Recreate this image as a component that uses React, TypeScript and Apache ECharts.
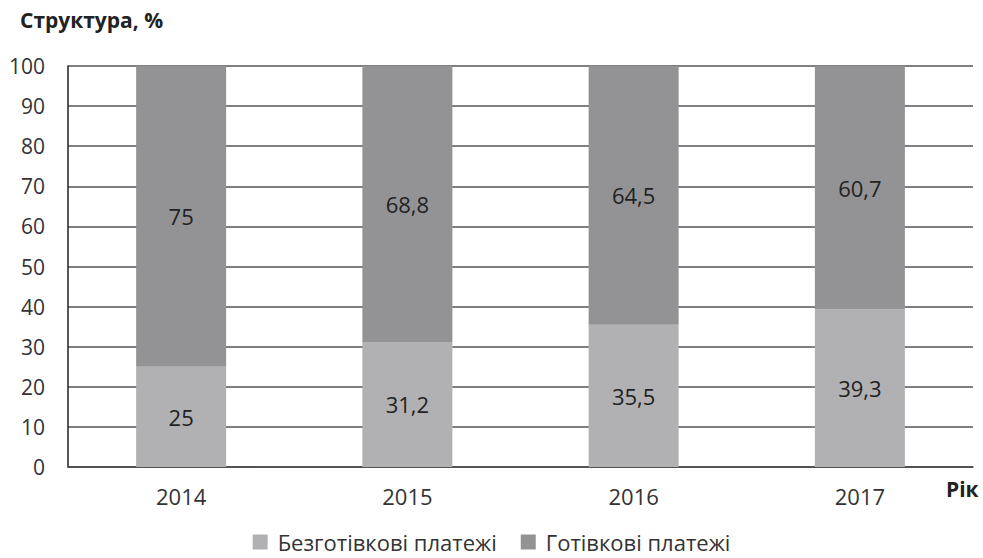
import React, { useEffect, useRef } from "react";
import * as echarts from "echarts";

const years = ["2014", "2015", "2016", "2017"];
const cashless = [25, 31.2, 35.5, 39.3];
const cash = [75, 68.8, 64.5, 60.7];
const seriesNames = ["Безготівкові платежі", "Готівкові платежі"];

const FONT = "'Open Sans', 'Noto Sans', sans-serif";

export default function App() {
  const ref = useRef<HTMLDivElement>(null);
  useEffect(() => {
    if (!ref.current) return;
    const chart = echarts.init(ref.current, undefined, { renderer: "svg" });
    const fmt = (p: any) => String(p.value).replace(".", ",");
    chart.setOption({
      animation: false,
      textStyle: { fontFamily: FONT },
      grid: { left: 68, right: 10, top: 66, bottom: 91 },
      graphic: [
        {
          type: "text",
          left: 20,
          top: 9,
          style: { text: "Структура, %", font: `bold 21px ${FONT}`, fill: "#222" },
        },
        {
          type: "text",
          left: 946,
          top: 478,
          style: { text: "Рік", font: `bold 21px ${FONT}`, fill: "#222" },
        },
      ],
      legend: {
        bottom: 0,
        left: "center",
        itemWidth: 15,
        itemHeight: 15,
        itemGap: 24,
        icon: "rect",
        textStyle: { fontSize: 22, color: "#333", fontFamily: FONT, padding: [0, 0, 0, 5] },
        data: seriesNames,
      },
      xAxis: {
        type: "category",
        data: years,
        axisLine: { lineStyle: { color: "#444", width: 1.5 } },
        axisTick: { show: false },
        axisLabel: { fontSize: 22, color: "#333", margin: 18, fontFamily: FONT },
      },
      yAxis: {
        type: "value",
        min: 0,
        max: 100,
        interval: 10,
        axisLine: { show: true, lineStyle: { color: "#222", width: 1.5 } },
        axisTick: { show: false },
        axisLabel: { fontSize: 21, color: "#333", margin: 23, fontFamily: FONT },
        splitLine: { lineStyle: { color: "#555", width: 1.5 } },
      },
      series: [
        {
          name: seriesNames[0],
          type: "bar",
          stack: "s",
          barWidth: 90,
          data: cashless,
          itemStyle: { color: "#b1b1b4" },
          label: { show: true, position: "inside", fontSize: 22, color: "#222", formatter: fmt, fontFamily: FONT },
        },
        {
          name: seriesNames[1],
          type: "bar",
          stack: "s",
          barWidth: 90,
          data: cash,
          itemStyle: { color: "#939396" },
          label: { show: true, position: "inside", fontSize: 22, color: "#222", formatter: fmt, fontFamily: FONT },
        },
      ],
    });
    return () => chart.dispose();
  }, []);
  return <div ref={ref} style={{ width: 983, height: 558, position: "absolute", left: 0, top: 0 }} />;
}
